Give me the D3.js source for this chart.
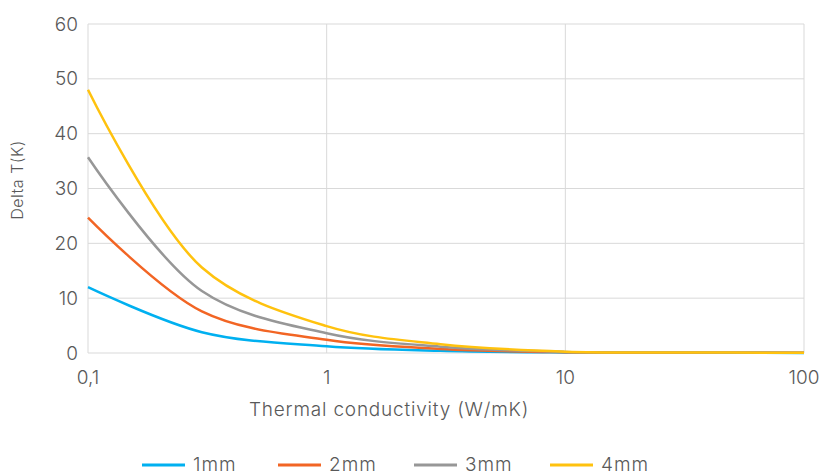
<!DOCTYPE html>
<html>
<head>
<meta charset="utf-8">
<script src="https://cdn.jsdelivr.net/npm/d3@7"></script>
<style>
  body { margin: 0; background: #fff; }
  svg text { font-family: Inter, "Open Sans", sans-serif; fill: #595959; font-weight: 300; }
</style>
</head>
<body>
<div id="chart"></div>
<script>
// conductivity points (W/mK)
const conductivity = [0.1, 0.3, 1, 3, 10, 30, 100];
const seriesNames = ['1mm', '2mm', '3mm', '4mm'];
const series1mm = [12, 3.8, 1.25, 0.4, 0.1, 0.04, 0.02];
const series2mm = [24.7, 7.6, 2.4, 0.75, 0.15, 0.06, 0.03];
const series3mm = [35.7, 11.3, 3.6, 1.15, 0.2, 0.08, 0.04];
const series4mm = [48, 15.6, 4.9, 1.6, 0.25, 0.1, 0.05];
const xTicks = [0.1, 1, 10, 100];
const xTickLabels = ['0,1', '1', '10', '100'];
const yTicks = [0, 10, 20, 30, 40, 50, 60];
const colors = ['#00b0f0', '#f26524', '#979797', '#ffc20e'];

const allSeries = [series1mm, series2mm, series3mm, series4mm];

const width = 823, height = 476;
const margin = {top: 24, right: 19, bottom: 123, left: 88};
const innerW = width - margin.left - margin.right;
const innerH = height - margin.top - margin.bottom;

const svg = d3.select('#chart').append('svg')
    .attr('width', width)
    .attr('height', height);

const chart = svg.append('g')
    .attr('transform', `translate(${margin.left},${margin.top})`);

const x = d3.scaleLog().domain([0.1, 100]).range([0, innerW]);
const y = d3.scaleLinear().domain([0, 60]).range([innerH, 0]);

// gridlines
chart.selectAll('.hgrid')
    .data(yTicks)
  .join('line')
    .attr('class', 'hgrid')
    .attr('x1', 0).attr('x2', innerW)
    .attr('y1', d => y(d)).attr('y2', d => y(d))
    .attr('stroke', '#d9d9d9').attr('stroke-width', 1);

chart.selectAll('.vgrid')
    .data(xTicks)
  .join('line')
    .attr('class', 'vgrid')
    .attr('x1', d => x(d)).attr('x2', d => x(d))
    .attr('y1', 0).attr('y2', innerH)
    .attr('stroke', '#d9d9d9').attr('stroke-width', 1);

// tick labels
chart.selectAll('.ylab')
    .data(yTicks)
  .join('text')
    .attr('class', 'ylab')
    .attr('x', -10)
    .attr('y', d => y(d))
    .attr('dy', '0.35em')
    .attr('text-anchor', 'end')
    .style('font-size', '19px')
    .text(d => d);

chart.selectAll('.xlab')
    .data(xTicks)
  .join('text')
    .attr('class', 'xlab')
    .attr('x', d => x(d))
    .attr('y', innerH + 31)
    .attr('text-anchor', 'middle')
    .style('font-size', '19px')
    .text((d, i) => xTickLabels[i]);

// axis titles
svg.append('text')
    .attr('x', 389)
    .attr('y', 416)
    .attr('text-anchor', 'middle')
    .style('font-size', '19px')
    .style('letter-spacing', '0.8px')
    .text('Thermal conductivity (W/mK)');

svg.append('text')
    .attr('transform', `translate(23,180) rotate(-90)`)
    .attr('text-anchor', 'middle')
    .style('font-size', '16px')
    .style('letter-spacing', '0.5px')
    .text('Delta T(K)');

// lines
const line = d3.line()
    .x((d, i) => x(conductivity[i]))
    .y(d => y(d))
    .curve(d3.curveCatmullRom.alpha(0.5));

chart.selectAll('.series')
    .data(allSeries)
  .join('path')
    .attr('class', 'series')
    .attr('d', line)
    .attr('fill', 'none')
    .attr('stroke', (d, i) => colors[i])
    .attr('stroke-width', 2.5);

// legend
const legend = svg.append('g').attr('transform', 'translate(142,465)');
const item = legend.selectAll('.item')
    .data(seriesNames)
  .join('g')
    .attr('class', 'item')
    .attr('transform', (d, i) => `translate(${i * 136},0)`);

item.append('line')
    .attr('x1', 0).attr('x2', 43)
    .attr('stroke', (d, i) => colors[i])
    .attr('stroke-width', 3);

item.append('text')
    .attr('x', 51)
    .attr('y', 6)
    .style('font-size', '19px')
    .style('letter-spacing', '1px')
    .text(d => d);
</script>
</body>
</html>
